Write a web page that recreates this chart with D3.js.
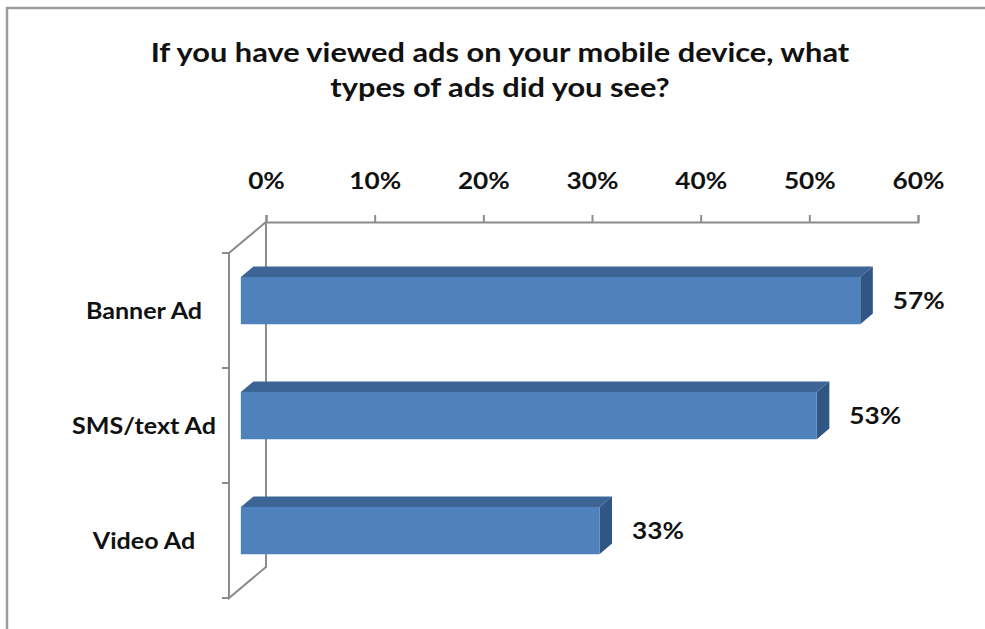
<!DOCTYPE html>
<html>
<head>
<meta charset="utf-8">
<script src="https://cdn.jsdelivr.net/npm/d3@7"></script>
<style>
  html, body { margin: 0; padding: 0; background: #fff; }
  svg { display: block; font-family: Lato, "Open Sans", sans-serif; font-weight: 700; }
</style>
</head>
<body>
<svg id="chart" width="985" height="629"></svg>
<script>
// Survey results: share of respondents who saw each type of mobile ad
const titleLines = ["If you have viewed ads on your mobile device, what", "types of ads did you see?"];
const categories = ["Banner Ad", "SMS/text Ad", "Video Ad"];
const values = [0.57, 0.53, 0.33];
const tickValues = [0, 0.1, 0.2, 0.3, 0.4, 0.5, 0.6];

const svg = d3.select("#chart");

// 3D frame: front plane and a receding depth offset
const depthDx = 37, depthDy = -31;
const barZ0 = 0.32, barZ1 = 0.66;   // bar sits in the middle slice of the depth
const barThickness = 0.41;          // fraction of band height
const textStretch = 1.14;           // wide lettering, closer to the original typeface

const x = d3.scaleLinear().domain([0, 0.6]).range([229, 881]);
const y = d3.scaleBand().domain(categories).range([253, 598]).paddingInner(0).paddingOuter(0);
const xBack = d3.scaleLinear().domain(x.domain()).range(x.range().map(v => v + depthDx));

const proj = (v, yy, z) => [x(v) + z * depthDx, yy + z * depthDy];

const gray = "#8c8c8c";

// outer frame (top and left edges)
svg.append("path")
  .attr("d", "M7,629V8H985")
  .attr("fill", "none").attr("stroke", "#9c9c9c").attr("stroke-width", 2.5);

// title
svg.append("g").selectAll("text").data(titleLines).join("text")
  .attr("x", 500).attr("y", (d, i) => 62 + i * 35)
  .attr("text-anchor", "middle")
  .attr("font-size", 27).attr("fill", "#111")
  .text(d => d);

// walls: back edge, front edge and the connecting diagonals
const yTop = y.range()[0], yBot = y.range()[1];
const wall = svg.append("g").attr("fill", "none").attr("stroke", gray).attr("stroke-width", 2);
const pTopFront = proj(0, yTop, 0), pTopBack = proj(0, yTop, 1);
const pBotFront = proj(0, yBot, 0), pBotBack = proj(0, yBot, 1);
wall.append("path").attr("d", `M${pTopBack}L${pBotBack}L${pBotFront}L${pTopFront}Z`);

// category ticks along the front edge
const bounds = categories.map(c => y(c)).concat([yBot]);
wall.selectAll("line.ctick").data(bounds).join("line")
  .attr("class", "ctick")
  .attr("x1", x(0) - 7).attr("x2", x(0))
  .attr("y1", d => d).attr("y2", d => d);

// value axis along the top of the back wall
const axis = svg.append("g")
  .attr("transform", `translate(0,${yTop + depthDy})`)
  .call(d3.axisTop(xBack).tickValues(tickValues).tickSize(7).tickPadding(26).tickFormat(d3.format(".0%")));
axis.select(".domain").attr("stroke", gray).attr("stroke-width", 2);
axis.selectAll(".tick line").attr("stroke", gray).attr("stroke-width", 2);
axis.selectAll(".tick text")
  .attr("font-family", "Lato, 'Open Sans', sans-serif")
  .attr("font-size", 23).attr("font-weight", 700).attr("fill", "#111");

// 3D bars
const bars = svg.append("g").selectAll("g").data(categories.map((c, i) => ({ c, v: values[i] }))).join("g");
function face(pts) { return "M" + pts.map(p => p.join(",")).join("L") + "Z"; }
bars.each(function(d) {
  const g = d3.select(this);
  const cy = y(d.c) + y.bandwidth() / 2;
  const h = y.bandwidth() * barThickness;
  const t = cy - h / 2, b = cy + h / 2;
  // top face
  g.append("path").attr("fill", "#3c6596")
    .attr("d", face([proj(0, t, barZ0), proj(d.v, t, barZ0), proj(d.v, t, barZ1), proj(0, t, barZ1)]));
  // right end face
  g.append("path").attr("fill", "#2f5685")
    .attr("d", face([proj(d.v, t, barZ0), proj(d.v, t, barZ1), proj(d.v, b, barZ1), proj(d.v, b, barZ0)]));
  // front face
  g.append("path").attr("fill", "#4f81bd")
    .attr("d", face([proj(0, t, barZ0), proj(d.v, t, barZ0), proj(d.v, b, barZ0), proj(0, b, barZ0)]));
  // value label
  const [lx, ly] = proj(d.v, cy, barZ1);
  g.append("text")
    .attr("x", lx + 20).attr("y", ly + 10 + 9)
    .attr("font-size", 23).attr("fill", "#111")
    .text(d3.format(".0%")(d.v));
});

// category labels
svg.append("g").selectAll("text").data(categories).join("text")
  .attr("x", 144)
  .attr("y", d => y(d) + y.bandwidth() / 2 + 8)
  .attr("text-anchor", "middle")
  .attr("font-size", 22).attr("fill", "#111")
  .text(d => d);

// widen every label slightly
svg.selectAll("text").each(function() {
  const w = this.getComputedTextLength();
  d3.select(this).attr("textLength", w * textStretch).attr("lengthAdjust", "spacingAndGlyphs");
});
</script>
</body>
</html>
